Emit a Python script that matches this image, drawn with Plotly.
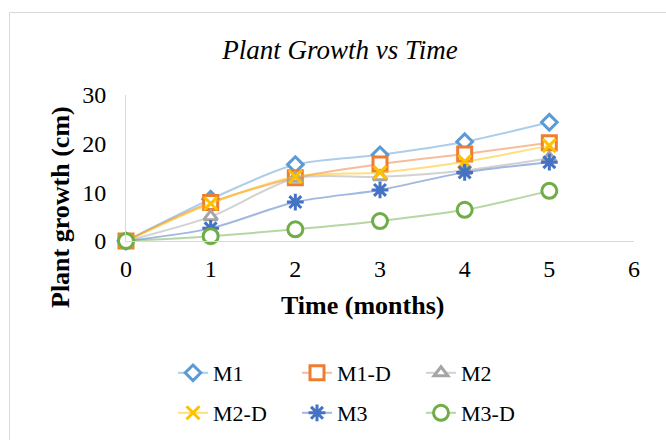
import plotly.graph_objects as go

# Months since planting
months = [0, 1, 2, 3, 4, 5]

# Plant growth (cm) per treatment
m1 = [0, 8.6, 15.7, 17.7, 20.4, 24.4]
m1_d = [0, 7.9, 13.0, 15.8, 17.9, 20.2]
m2 = [0, 5.0, 12.9, 13.2, 14.5, 17.0]
m2_d = [0, 7.7, 13.2, 14.1, 16.3, 19.6]
m3 = [0, 2.6, 8.0, 10.5, 14.1, 16.2]
m3_d = [0, 1.0, 2.4, 4.1, 6.4, 10.3]

series_names = ["M1", "M1-D", "M2", "M2-D", "M3", "M3-D"]
series_values = [m1, m1_d, m2, m2_d, m3, m3_d]

x_ticks = [0, 1, 2, 3, 4, 5, 6]
y_ticks = [0, 10, 20, 30]

SERIF = "Liberation Serif"

styles = {
    "M1": dict(color=(91, 155, 213), symbol="diamond", size=12, fill="white", legend="legend"),
    "M1-D": dict(color=(237, 125, 49), symbol="square", size=14, fill="white", legend="legend"),
    "M2": dict(color=(165, 165, 165), symbol="triangle-up", size=12, fill="white", legend="legend"),
    "M2-D": dict(color=(255, 192, 0), symbol="x-thin", size=13, fill=None, legend="legend2"),
    "M3": dict(color=(68, 114, 196), symbol="asterisk", size=14, fill=None, legend="legend2"),
    "M3-D": dict(color=(112, 173, 71), symbol="circle", size=15, fill="white", legend="legend2"),
}

fig = go.Figure()
for name, vals in zip(series_names, series_values):
    s = styles[name]
    r, g, b = s["color"]
    solid = f"rgb({r},{g},{b})"
    faded = f"rgba({r},{g},{b},0.5)"
    marker = dict(symbol=s["symbol"], size=s["size"],
                  line=dict(color=solid, width=3))
    marker["color"] = s["fill"] if s["fill"] else solid
    fig.add_trace(go.Scatter(
        x=months, y=vals, name=name, mode="lines+markers",
        line=dict(color=faded, width=2, shape="spline", smoothing=0.8),
        marker=marker, cliponaxis=False, legend=s["legend"],
    ))

# plot-area geometry in pixels
W, H = 666, 440
L, R, T, B = 126, 32, 95, 199
PW, PH = W - L - R, H - T - B


def px_x(px):
    return (px - L) / PW


def px_y(py):
    return (H - B - py) / PH


axis_common = dict(
    showgrid=False, zeroline=False, showline=True,
    linecolor="#D9D9D9", linewidth=1, ticks="",
    tickfont=dict(family=SERIF, size=24, color="black"),
)

legend_common = dict(
    orientation="h", xanchor="left", yanchor="middle",
    font=dict(family=SERIF, size=22, color="black"),
    bgcolor="rgba(0,0,0,0)", entrywidth=79, itemclick=False,
)

fig.update_layout(
    width=W, height=H,
    margin=dict(l=L, r=R, t=T, b=B, autoexpand=False),
    paper_bgcolor="white", plot_bgcolor="white",
    showlegend=True,
    title=dict(text="<i>Plant Growth vs Time</i>", x=340 / W, xanchor="center",
               y=1 - 50 / H, yanchor="middle",
               font=dict(family=SERIF, size=27, color="black")),
    xaxis=dict(range=[0, 6], tickvals=x_ticks, ticklabelstandoff=6, **axis_common),
    yaxis=dict(range=[0, 30], tickvals=y_ticks, ticklabelstandoff=14, **axis_common),
    legend=dict(x=px_x(173), y=px_y(373), **legend_common),
    legend2=dict(x=px_x(173), y=px_y(413), **legend_common),
    annotations=[
        dict(text="<b>Time (months)</b>", xref="paper", yref="paper",
             x=px_x(362), y=px_y(305), xanchor="center", yanchor="middle",
             showarrow=False, font=dict(family=SERIF, size=26, color="black")),
        dict(text="<b>Plant growth (cm)</b>", xref="paper", yref="paper",
             x=px_x(60), y=px_y(207), xanchor="center", yanchor="middle",
             textangle=-90, showarrow=False,
             font=dict(family=SERIF, size=26, color="black")),
    ],
    shapes=[
        dict(type="rect", xref="paper", yref="paper",
             x0=px_x(9.5), x1=px_x(W + 20), y0=px_y(H + 20), y1=px_y(12.5),
             line=dict(color="#D9D9D9", width=1), fillcolor="rgba(0,0,0,0)",
             layer="below"),
    ],
)

fig.write_html("out.html")
